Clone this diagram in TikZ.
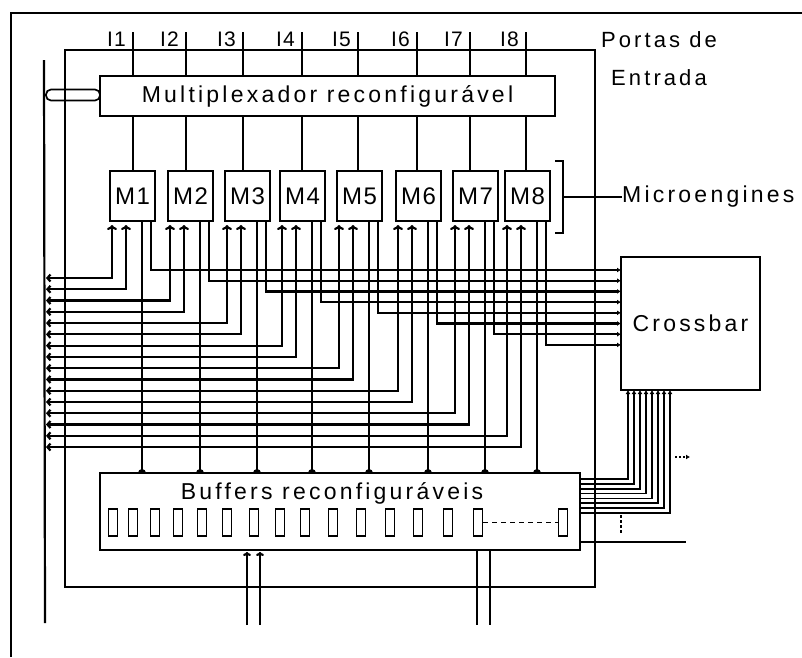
\documentclass[tikz,border=0pt]{standalone}
\usepackage{fontspec}
\setmainfont{Liberation Sans}[LetterSpace=14]
\usetikzlibrary{arrows.meta,calc}
\begin{document}
\begin{tikzpicture}[x=1pt,y=-1pt,
  wire/.style={line width=2.2pt},
  thin wire/.style={line width=1.7pt},
  box/.style={draw,line width=2.2pt,inner sep=0pt,outer sep=0pt,fill=white},
  lbl/.style={font=\fontsize{23}{26}\selectfont,inner sep=0pt},
  inarrow/.style={{Straight Barb[length=3pt,width=7pt]}-{To[length=5pt,width=10pt]}},
  upopen/.style={-{To[length=4pt,width=8pt]}},
  tocross/.style={-{Latex[length=4pt,width=5pt]}},
  cell/.style={draw,line width=1.7pt,minimum width=9pt,minimum height=27pt,inner sep=0pt}
]
\useasboundingbox (0,0) rectangle (802,657);
% outer page frame
\coordinate (o1) at (11,657);
\coordinate (o2) at (11,13);
\coordinate (o3) at (802,13);
\draw[wire] (o1) -- (o2) -- (o3);
% inner frame
\node[box,fill=none,minimum width=530pt,minimum height=537pt] (frame) at (330,318.5) {};
% left bus
\coordinate (bus1) at (44,60);
\coordinate (bus2) at (45,623);
\draw[wire] (bus1) -- (bus2);
% multiplexer
\node[box,minimum width=455pt,minimum height=40pt] (mux) at (327.5,96) {};
\node[lbl] (muxt) at (mux.center) {Multiplexador reconfigurável};
\node[draw,line width=1.7pt,rounded corners=5pt,minimum width=54pt,minimum height=11pt,inner sep=0pt] (busc) at (73,95) {};
% crossbar
\node[box,minimum width=139pt,minimum height=133pt] (xbar) at (690.5,323.5) {};
\node[font=\fontsize{23}{26}\selectfont,inner sep=0pt] (xbart) at (xbar.center) {Crossbar};
% buffers
\node[box,minimum width=480pt,minimum height=77pt] (buf) at (340,511.5) {};
\node[lbl] (buft) at (332,493) {Buffers reconfiguráveis};
\foreach \c [count=\k] in {113,133,155,178,202,227,254,280,305,333,361,390,418,448,478,563}
  \node[cell] (c\k) at (\c,522.5) {};
\draw[line width=1.6pt,dash pattern=on 5pt off 4pt] (c15.east) -- (c16.west);
% M boxes and wiring
\foreach \i/\L/\xi in {1/110/133,2/168/186,3/225/243,4/280/302,5/337/358,6/396/417,7/453/470,8/505/526}{
  \node[box,minimum width=45pt,minimum height=50pt] (M\i) at (\L+22.5,196) {};
  \node[font=\fontsize{24}{26}\selectfont\addfontfeatures{LetterSpace=6},inner sep=0pt] at (M\i.center) {M\i};
  \coordinate (in\i) at (\xi,32);
  \draw[wire] (in\i) -- (in\i |- mux.north);
  \draw[wire] (in\i |- mux.south) -- (in\i |- M\i.north);
  \node[font=\fontsize{21}{24}\selectfont\addfontfeatures{LetterSpace=6},inner sep=0pt,anchor=east] at (\xi-7,39) {I\i};
  \pgfmathsetmacro\ya{278+(2*\i-2)*11.27}
  \pgfmathsetmacro\yb{278+(2*\i-1)*11.27}
  \pgfmathsetmacro\yc{270+(\i-1)*10.7}
  \draw[wire,inarrow] (46,\ya) -- (\L+2,\ya) -- (\L+2,225);
  \draw[wire,inarrow] (46,\yb) -- (\L+16,\yb) -- (\L+16,225);
  \draw[wire] ($(M\i.south west)+(32,0)$) -- (\L+32,473);
  \fill (\L+28,473) arc[start angle=180,end angle=0,radius=4pt];
  \draw[wire,tocross] ($(M\i.south west)+(41,0)$) -- (\L+41,\yc) -- (xbar.west |- 0,\yc);
}
% bracket and Microengines
\draw[wire] (555,161) -- (563,161) -- (563,233) -- (555,233);
\node[lbl,anchor=west] (micro) at (622,197) {Microengines};
\draw[wire] (563,197) -- (micro.west);
% Portas de Entrada
\node[font=\fontsize{22}{38}\selectfont,align=center,inner sep=0pt] (portas) at (659,59) {Portas de\\Entrada};
% crossbar bottom to buffers
\foreach \k in {0,...,7}{
  \pgfmathsetmacro\xx{628+6*\k}
  \pgfmathsetmacro\yy{479+4.86*\k}
  \draw[thin wire,tocross] (buf.east |- 0,\yy) -- (\xx,\yy) -- (\xx,0 |- xbar.south);
}
\draw[line width=1.5pt,dash pattern=on 2pt off 2pt,-{Latex[length=4pt,width=5pt]}] (675,457) -- (690,457);
\draw[line width=1.8pt,dash pattern=on 2.5pt off 2.5pt] (621,515) -- (621,533);
\draw[wire] (buf.east |- 0,542) -- (686,542);
% buffer bottom lines
\draw[wire,upopen] (247,625) -- (247,552);
\draw[wire,upopen] (260,625) -- (260,552);
\draw[wire] (477,550) -- (477,625);
\draw[wire] (490,550) -- (490,625);
\end{tikzpicture}
\end{document}
